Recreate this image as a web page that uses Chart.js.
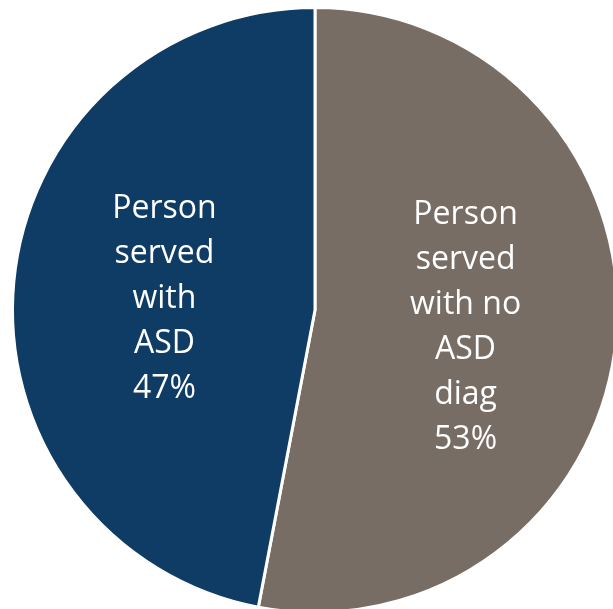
<!DOCTYPE html>
<html>
<head>
<meta charset="utf-8">
<script src="https://cdn.jsdelivr.net/npm/chart.js@4"></script>
<style>
  html, body { margin: 0; padding: 0; background: #fff; overflow: hidden; }
  #wrap { position: absolute; left: 0; top: 0; width: 630px; height: 620px; }
</style>
</head>
<body>
<div id="wrap"><canvas id="myChart" width="630" height="620"></canvas></div>
<script>
const categories = ['Person served with no ASD diag', 'Person served with ASD'];
const values = [53, 47];
const labelLines = [
  ['Person', 'served', 'with no', 'ASD', 'diag', '53%'],
  ['Person', 'served', 'with', 'ASD', '47%']
];
const colors = ['#786d65', '#0f3c64'];

// draw the white labels in the middle of each slice
const sliceLabels = {
  id: 'sliceLabels',
  afterDatasetsDraw(chart) {
    const ctx = chart.ctx;
    const meta = chart.getDatasetMeta(0);
    ctx.save();
    ctx.fillStyle = '#ffffff';
    ctx.font = '32px "Open Sans"';
    ctx.textAlign = 'center';
    ctx.textBaseline = 'middle';
    const lh = 45;
    meta.data.forEach((arc, i) => {
      const pos = arc.tooltipPosition();
      const lines = labelLines[i];
      const start = pos.y + 3 - (lines.length - 1) * lh / 2;
      lines.forEach((t, j) => ctx.fillText(t, pos.x, start + j * lh));
    });
    ctx.restore();
  }
};

const ctx = document.getElementById('myChart');
const myChart = new Chart(ctx, {
  type: 'pie',
  data: {
    labels: categories,
    datasets: [{
      data: values,
      backgroundColor: colors,
      borderColor: '#ffffff',
      borderWidth: 3
    }]
  },
  options: {
    responsive: false,
    animation: false,
    layout: { padding: 6 },
    plugins: {
      legend: { display: false },
      tooltip: { enabled: false }
    }
  },
  plugins: [sliceLabels]
});
</script>
</body>
</html>
